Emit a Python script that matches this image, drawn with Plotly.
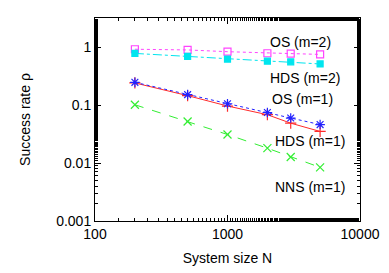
import plotly.graph_objects as go

N = [200, 500, 1000, 2000, 3000, 5000]
os_m2 = [0.915, 0.89, 0.83, 0.78, 0.77, 0.745]
hds_m2 = [0.775, 0.69, 0.62, 0.57, 0.555, 0.51]
os_m1 = [0.246, 0.151, 0.105, 0.0743, 0.0596, 0.046]
hds_m1 = [0.24, 0.145, 0.096, 0.068, 0.0486, 0.035]
nns_m1 = [0.101, 0.052, 0.031, 0.018, 0.0127, 0.0084]

labels = ["OS (m=2)", "HDS (m=2)", "OS (m=1)", "HDS (m=1)", "NNS (m=1)"]
label_x = [0.653, 0.653, 0.660, 0.672, 0.672]
label_y = [0.880, 0.703, 0.603, 0.395, 0.167]

fig = go.Figure()
series = [
    (os_m2, "#ff44ff", "dot", "square-open", 7),
    (hds_m2, "#00e5ee", "dashdot", "square", 6),
    (hds_m1, "#ff2a2a", "solid", "cross-thin-open", 8),
    (os_m1, "#2222ff", "dot", "asterisk-open", 8),
    (nns_m1, "#33ee33", "dash", "x-thin-open", 8),
]
for ys, col, dash, sym, sz in series:
    fig.add_trace(go.Scatter(
        x=N, y=ys, mode="lines+markers",
        line=dict(color=col, width=1, dash=dash),
        marker=dict(symbol=sym, size=sz, color=col, line=dict(color=col, width=1.2)),
        showlegend=False))

for t, xx, yy in zip(labels, label_x, label_y):
    fig.add_annotation(x=xx, y=yy, xref="paper", yref="paper", text=t,
                       showarrow=False, xanchor="left", yanchor="middle",
                       font=dict(size=14, color="black"))

axis_common = dict(
    type="log", showline=True, linecolor="black", linewidth=1, mirror="allticks",
    ticks="inside", ticklen=6, tickcolor="black", tickwidth=1, showgrid=False, zeroline=False,
    minor=dict(ticks="inside", ticklen=3, tickcolor="black", tickwidth=1, showgrid=False),
    tickfont=dict(size=14, color="black"),
)
fig.update_xaxes(range=[2, 4], tickvals=[100, 1000, 10000], ticktext=["100", "1000", "10000"],
                 title=dict(text="System size N", font=dict(size=14, color="black"), standoff=12),
                 **axis_common)
fig.update_yaxes(range=[-3, 0.5], tickvals=[0.001, 0.01, 0.1, 1], ticktext=["0.001", "0.01", "0.1", "1"],
                 title=dict(text="Success rate ρ", font=dict(size=14, color="black"), standoff=22),
                 **axis_common)
fig.update_layout(width=381, height=265, margin=dict(l=87, r=26, t=9, b=46),
                  paper_bgcolor="white", plot_bgcolor="white",
                  font=dict(family="Liberation Sans, Arial, sans-serif"))
fig.write_html("out.html")
